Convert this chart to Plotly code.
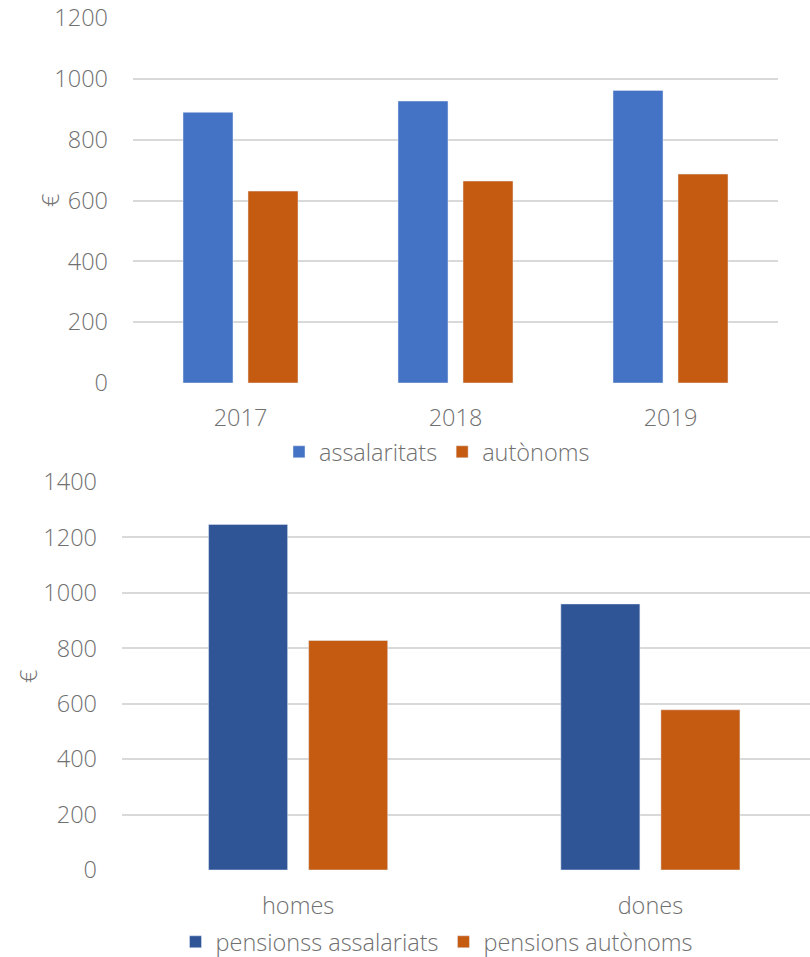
import plotly.graph_objects as go

years = ["2017", "2018", "2019"]
assalaritats = [890, 927, 962]
autonoms = [631, 664, 687]

sexes = ["homes", "dones"]
pens_assalariats = [1247, 960]
pens_autonoms = [828, 578]

W, H = 810, 957
FONT = "Open Sans"
GREY = "#707070"
GRID = "#d9d9d9"

fig = go.Figure()

# top chart bar geometry (category units)
tw = 50 / 215
toff = -(115 / 215) / 2
fig.add_trace(go.Bar(x=years, y=assalaritats, name="assalaritats", marker_color="#4472C4",
                     width=tw, offset=toff, xaxis="x", yaxis="y", legend="legend"))
fig.add_trace(go.Bar(x=years, y=autonoms, name="autònoms", marker_color="#C55A11",
                     width=tw, offset=toff + 65 / 215, xaxis="x", yaxis="y", legend="legend"))

bw = 79 / 352
boff = -(179 / 352) / 2
fig.add_trace(go.Bar(x=sexes, y=pens_assalariats, name="pensionss assalariats", marker_color="#2F5597",
                     width=bw, offset=boff, xaxis="x2", yaxis="y2", legend="legend2"))
fig.add_trace(go.Bar(x=sexes, y=pens_autonoms, name="pensions autònoms", marker_color="#C55A11",
                     width=bw, offset=boff + 100 / 352, xaxis="x2", yaxis="y2", legend="legend2"))

axfont = dict(family=FONT, size=23.5, color=GREY, weight=300)

fig.update_layout(
    width=W, height=H, margin=dict(l=0, r=0, t=0, b=0, autoexpand=False),
    paper_bgcolor="white", plot_bgcolor="white",
    barmode="overlay",
    font=axfont,
    xaxis=dict(domain=[133 / W, 778 / W], anchor="y", type="category", automargin=False,
               range=[-0.5, 2.5], showgrid=False, showline=False, zeroline=False,
               tickfont=axfont, ticklabelstandoff=18),
    yaxis=dict(domain=[1 - 383 / H, 1 - 18 / H], anchor="x", range=[0, 1200], dtick=200,
               automargin=False,
               showgrid=True, gridcolor=GRID, gridwidth=1.5, zeroline=False, showline=False,
               tickfont=axfont, ticklabelstandoff=24),
    xaxis2=dict(domain=[122 / W, 1.0], anchor="y2", type="category", automargin=False,
                range=[-0.5, 1.5 - 16.5 / 352], showgrid=False, showline=False, zeroline=False,
                tickfont=axfont, ticklabelstandoff=19),
    yaxis2=dict(domain=[1 - 870 / H, 1 - 482 / H], anchor="x2", range=[0, 1400], dtick=200,
                automargin=False,
                showgrid=True, gridcolor=GRID, gridwidth=1.5, zeroline=False, showline=False,
                tickfont=axfont, ticklabelstandoff=24),
    legend=dict(orientation="h", x=437 / W, xanchor="center", y=1 - 452 / H, yanchor="middle",
                font=axfont, bgcolor="rgba(0,0,0,0)"),
    legend2=dict(orientation="h", x=437 / W, xanchor="center", y=1 - 942 / H, yanchor="middle",
                 font=axfont, bgcolor="rgba(0,0,0,0)"),
    annotations=[
        dict(text="€", x=50 / W, y=1 - 201 / H, xref="paper", yref="paper", showarrow=False,
             textangle=-90, font=axfont, xanchor="center", yanchor="middle"),
        dict(text="€", x=28 / W, y=1 - 676 / H, xref="paper", yref="paper", showarrow=False,
             textangle=-90, font=axfont, xanchor="center", yanchor="middle"),
    ],
)

fig.write_html("out.html", config={"displayModeBar": False},
               post_script="document.body.style.margin='0';document.body.style.padding='0';")
